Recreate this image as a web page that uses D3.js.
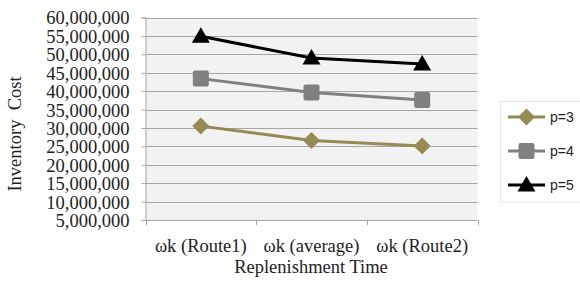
<!DOCTYPE html>
<html><head><meta charset="utf-8">
<script src="https://cdn.jsdelivr.net/npm/d3@7"></script>
<style>body{margin:0;background:#fff}svg{display:block}</style>
</head><body>
<svg id="c" width="580" height="284"></svg>
<script>
const categories = ["ωk (Route1)", "ωk (average)", "ωk (Route2)"];
const seriesNames = ["p=3", "p=4", "p=5"];
const p3 = [30500000, 26600000, 25100000];
const p4 = [43400000, 39600000, 37600000];
const p5 = [54900000, 49000000, 47400000];
const yTicks = [5000000,10000000,15000000,20000000,25000000,30000000,35000000,40000000,45000000,50000000,55000000,60000000];
const colors = ["#948a54", "#808080", "#000000"];
const shapes = ["diamond", "square", "triangle"];

const serif = "'Liberation Serif','Times New Roman',serif";
const svg = d3.select("#c");
const L = 145.5, R = 477.5, T = 17.5, B = 220;
const x = d3.scaleBand().domain(categories).range([L, R]);
const y = d3.scaleLinear().domain([5000000, 60000000]).range([B, T]);

svg.append("rect").attr("x", L).attr("y", T).attr("width", R - L).attr("height", B - T).attr("fill", "#f2f2f2");

svg.append("g").selectAll("line").data(yTicks).join("line")
  .attr("x1", L).attr("x2", R).attr("y1", d => Math.round(y(d)) + 0.5).attr("y2", d => Math.round(y(d)) + 0.5)
  .attr("stroke", "#a6a6a6").attr("stroke-width", 1);

const ya = svg.append("g").attr("transform", `translate(${L},0)`)
  .call(d3.axisLeft(y).tickValues(yTicks).tickSize(4).tickPadding(12).tickFormat(d3.format(",")));
ya.selectAll("path,line").attr("stroke", "#a6a6a6");
ya.selectAll("text").attr("font-family", serif).attr("font-size", 18.5).attr("fill", "#222").attr("dy", "0.35em");

const xa = svg.append("g").attr("transform", `translate(0,${B})`)
  .call(d3.axisBottom(x).tickSize(0).tickPadding(19));
xa.select("path").remove();
xa.selectAll("text").attr("font-family", serif).attr("font-size", 18.5).attr("fill", "#222");
const bounds = [L, ...categories.map(c => x(c) + x.bandwidth())];
svg.append("g").selectAll("line").data(bounds).join("line")
  .attr("x1", d => Math.round(d) + 0.5).attr("x2", d => Math.round(d) + 0.5)
  .attr("y1", B).attr("y2", B + 5).attr("stroke", "#a6a6a6");

svg.append("text").attr("x", 311).attr("y", 273).attr("text-anchor", "middle")
  .attr("font-family", serif).attr("font-size", 18.5).attr("fill", "#222")
  .text("Replenishment Time");
svg.append("text").attr("transform", "translate(21,134) rotate(-90)").attr("text-anchor", "middle")
  .attr("font-family", serif).attr("font-size", 18.5).attr("fill", "#222")
  .style("white-space", "pre")
  .text("Inventory  Cost");

function marker(g, shape, color) {
  if (shape === "diamond") g.append("path").attr("d", "M0,-8.5L8.5,0L0,8.5L-8.5,0Z").attr("fill", color);
  else if (shape === "square") g.append("rect").attr("x", -8).attr("y", -8).attr("width", 16).attr("height", 16).attr("rx", 2).attr("fill", color);
  else g.append("path").attr("d", "M0,-9L9,6.5L-9,6.5Z").attr("fill", color);
}

const data = [p3, p4, p5];
const cx = c => x(c) + x.bandwidth() / 2;
data.forEach((vals, i) => {
  const pts = categories.map((c, j) => [cx(c), y(vals[j])]);
  svg.append("path").attr("d", d3.line()(pts)).attr("fill", "none").attr("stroke", colors[i]).attr("stroke-width", 3);
  pts.forEach(p => marker(svg.append("g").attr("transform", `translate(${p[0]},${p[1]})`), shapes[i], colors[i]));
});

svg.append("rect").attr("x", 500.5).attr("y", 101.5).attr("width", 90).attr("height", 100.5)
  .attr("fill", "#fff").attr("stroke", "#e6e6e6");
seriesNames.forEach((n, i) => {
  const ly = 117 + i * 34;
  svg.append("line").attr("x1", 508).attr("x2", 545).attr("y1", ly).attr("y2", ly).attr("stroke", colors[i]).attr("stroke-width", 3);
  marker(svg.append("g").attr("transform", `translate(526.5,${ly})`), shapes[i], colors[i]);
  svg.append("text").attr("x", 550).attr("y", ly).attr("dy", "0.35em")
    .attr("font-family", "'Liberation Sans',Arial,sans-serif").attr("font-size", 14).attr("fill", "#222").text(n);
});
</script>
</body></html>
